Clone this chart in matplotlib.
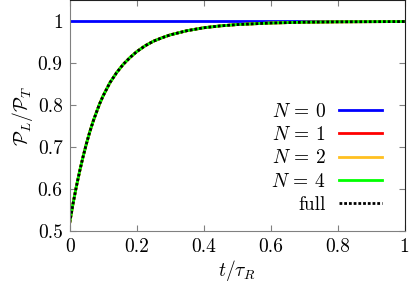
import matplotlib
matplotlib.use("Agg")
import matplotlib.pyplot as plt

plt.rcParams['font.family'] = 'serif'
plt.rcParams['font.serif'] = ['cmr10']
plt.rcParams['mathtext.fontset'] = 'cm'
plt.rcParams['axes.formatter.use_mathtext'] = True

t_vals = [0.0, 0.01, 0.02, 0.03, 0.04, 0.05, 0.06, 0.07, 0.08, 0.09, 0.1, 0.12, 0.14,
          0.16, 0.18, 0.2, 0.225, 0.25, 0.275, 0.3, 0.35, 0.4, 0.45, 0.5, 0.6, 0.7,
          0.8, 0.9, 1.0]
full_vals = [0.520, 0.566, 0.607, 0.644, 0.678, 0.709, 0.737, 0.762, 0.784, 0.805, 0.823,
             0.854, 0.878, 0.898, 0.914, 0.928, 0.942, 0.953, 0.961, 0.968, 0.978, 0.985,
             0.9895, 0.9926, 0.9963, 0.9982, 0.9991, 0.9995, 0.9998]
n0_vals = [1.0] * len(t_vals)
n1_vals = list(full_vals)
n2_vals = list(full_vals)
n4_vals = list(full_vals)

labels = [r'$N\,=\,0$', r'$N\,=\,1$', r'$N\,=\,2$', r'$N\,=\,4$', 'full']
xticks = [0, 0.2, 0.4, 0.6, 0.8, 1]
yticks = [0.5, 0.6, 0.7, 0.8, 0.9, 1]

fig = plt.figure(figsize=(4.09, 2.86), dpi=100)
ax = fig.add_axes([0.1704, 0.1913, 0.819, 0.807])

kw = dict(lw=2.0, solid_joinstyle='round', dash_joinstyle='round')
ax.plot(t_vals, n0_vals, color='#0000ff', label=labels[0], **kw)
ax.plot(t_vals, n1_vals, color='#ff0000', label=labels[1], **kw)
ax.plot(t_vals, n2_vals, color='#ffc020', label=labels[2], **kw)
ax.plot(t_vals, n4_vals, color='#00ff00', label=labels[3], **kw)
ax.plot(t_vals, full_vals, color='black', ls=(0, (1, 0.7)), label=labels[4], **kw)

ax.set_xlim(0, 1)
ax.set_ylim(0.5, 1.05)
ax.set_xticks(xticks)
ax.set_xticklabels(['0', '0.2', '0.4', '0.6', '0.8', '1'])
ax.set_yticks(yticks)
ax.set_yticklabels(['0.5', '0.6', '0.7', '0.8', '0.9', '1'])
ax.tick_params(direction='in', length=4, width=0.8, top=True, right=True,
               labelsize=14, pad=5, color='#808080')
for s in ['left', 'bottom']:
    ax.spines[s].set_color('#808080')
for s in ['top', 'right']:
    ax.spines[s].set_color('#202020')

ax.set_xlabel(r'$t/\tau_R$', fontsize=14, labelpad=1)
ax.set_ylabel(r'$\mathcal{P}_L/\mathcal{P}_T$', fontsize=14, labelpad=2)

leg = ax.legend(loc='lower right', frameon=False, markerfirst=False, fontsize=14,
                handlelength=2.2, handletextpad=0.7, labelspacing=0.27,
                borderaxespad=0.5, bbox_to_anchor=(0.985, 0.0))
for txt in leg.get_texts():
    txt.set_ha('right')

fig.savefig('out.png', dpi=100)
